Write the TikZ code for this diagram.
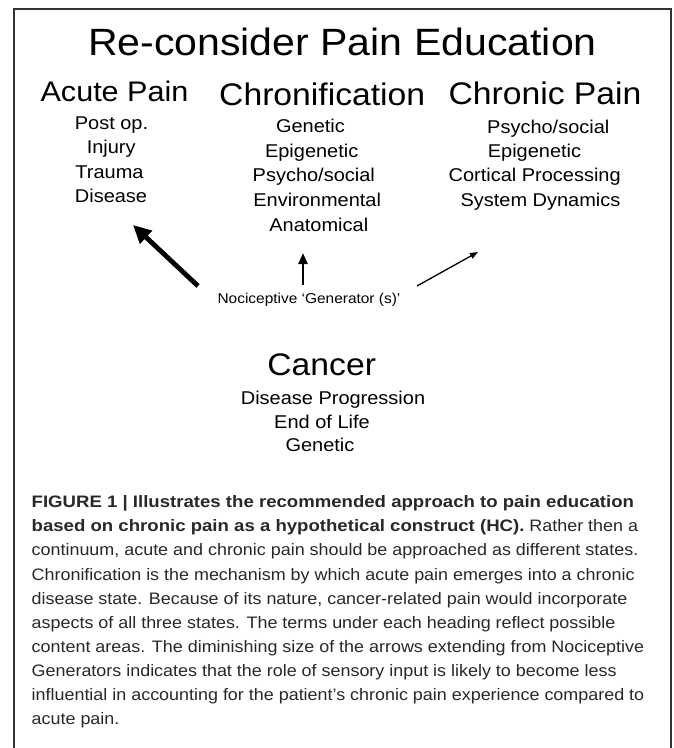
\documentclass[tikz,border=0pt]{standalone}
\usepackage{fontspec}
\setmainfont[FakeStretch=1.08,BoldFeatures={FakeStretch=1.12}]{Liberation Sans}
\usetikzlibrary{arrows.meta}
\definecolor{captxt}{RGB}{40,40,40}
\begin{document}
\begin{tikzpicture}[x=1pt,y=-1pt,
  txt/.style={inner sep=0pt,outer sep=0pt,anchor=base},
  title/.style={txt,font=\fontsize{38}{38}\selectfont},
  headA/.style={txt,font=\fontsize{28.3}{28.3}\selectfont},
  head/.style={txt,font=\fontsize{31.2}{31.2}\selectfont},
  item/.style={txt,font=\fontsize{18.5}{18.5}\selectfont},
  small/.style={txt,font=\fontsize{14.3}{14.3}\selectfont},
  capline/.style={inner sep=0pt,outer sep=0pt,anchor=base west,text=captxt,font=\fontsize{16.6}{24.1}\selectfont},
  frame/.style={line width=1.6pt,draw=black!80},
  arrA/.style={line width=4.8pt,-{Triangle[length=18pt,width=17pt]}},
  arrB/.style={line width=2.4pt,-{Triangle[length=11pt,width=9pt]}},
  arrC/.style={line width=1.3pt,-{Triangle[length=8pt,width=6pt]}}
]
\useasboundingbox (0,0) rectangle (673,748);
\fill[white] (0,0) rectangle (673,748);
\draw[frame] (14,748) -- (14,9) -- (671,9) -- (671,748);

\node[title] (t) at (342.4,55) {Re-consider Pain Education};

\node[headA] (acute) at (114.5,101.7) {Acute Pain};
\node[head] (chronif) at (322.2,105) {Chronification};
\node[head] (chronic) at (545,104.3) {Chronic Pain};

\node[item] (a1) at (111.5,129.3) {Post op.};
\node[item] (a2) at (111.2,153.3) {Injury};
\node[item] (a3) at (109.5,178.3) {Trauma};
\node[item] (a4) at (111,202.7) {Disease};

\node[item] (b1) at (310.5,132.7) {Genetic};
\node[item] (b2) at (311.7,157.3) {Epigenetic};
\node[item] (b3) at (313.8,181.7) {Psycho/social};
\node[item] (b4) at (317.2,206.7) {Environmental};
\node[item] (b5) at (318.8,231.7) {Anatomical};

\node[item] (c1) at (548.3,133.3) {Psycho/social};
\node[item] (c2) at (534.5,157.3) {Epigenetic};
\node[item] (c3) at (534.7,181.7) {Cortical Processing};
\node[item] (c4) at (540.5,206) {System Dynamics};

\node[small] (noci) at (309,303.3) {Nociceptive ‘Generator (s)’};

\coordinate (tA) at (198,286);
\coordinate (hA) at (133,225);
\coordinate (tB) at (303,285);
\coordinate (hB) at (303,253);
\coordinate (tC) at (417,286);
\coordinate (hC) at (478,252);
\draw[arrA] (tA) -- (hA);
\draw[arrB] (tB) -- (hB);
\draw[arrC] (tC) -- (hC);

\node[head] (cancer) at (321.7,375) {Cancer};
\node[item] (d1) at (333,404) {Disease Progression};
\node[item] (d2) at (322,428.3) {End of Life};
\node[item] (d3) at (320,451.7) {Genetic};

\node[capline] (l1) at (31.7,507.7) {\textbf{FIGURE 1 | Illustrates the recommended approach to pain education}};
\node[capline] (l2) at (31.7,531.8) {\textbf{based on chronic pain as a hypothetical construct (HC).} Rather then a};
\node[capline] (l3) at (31.7,555.9) {continuum, acute and chronic pain should be approached as different states.};
\node[capline] (l4) at (31.7,580.0) {Chronification is the mechanism by which acute pain emerges into a chronic};
\node[capline] (l5) at (31.7,604.1) {disease state. Because of its nature, cancer-related pain would incorporate};
\node[capline] (l6) at (31.7,628.2) {aspects of all three states. The terms under each heading reflect possible};
\node[capline] (l7) at (31.7,652.3) {content areas. The diminishing size of the arrows extending from Nociceptive};
\node[capline] (l8) at (31.7,676.4) {Generators indicates that the role of sensory input is likely to become less};
\node[capline] (l9) at (31.7,700.5) {influential in accounting for the patient’s chronic pain experience compared to};
\node[capline] (l10) at (31.7,724.6) {acute pain.};
\end{tikzpicture}
\end{document}
